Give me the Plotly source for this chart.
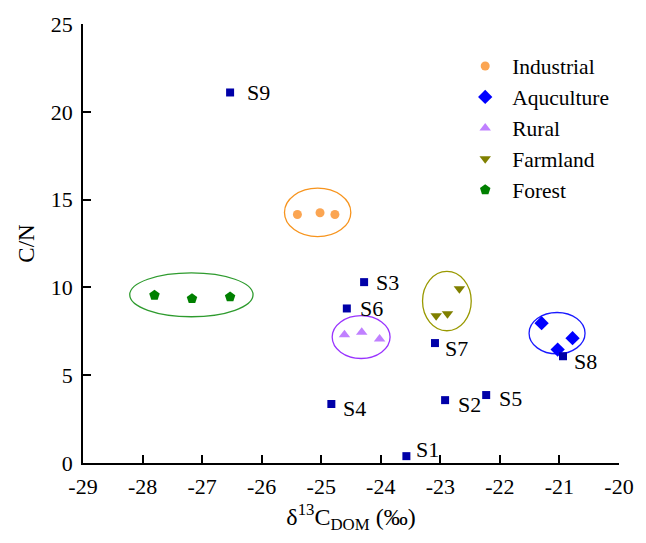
import plotly.graph_objects as go

# ---- data ----
industrial_x = [-25.40, -25.02, -24.77]
industrial_y = [14.15, 14.25, 14.15]
aqua_x = [-21.30, -20.78, -21.03]
aqua_y = [7.96, 7.11, 6.46]
rural_x = [-24.61, -24.32, -24.02]
rural_y = [7.30, 7.45, 7.06]
farm_x = [-23.07, -22.88, -22.68]
farm_y = [8.39, 8.50, 9.93]
forest_x = [-27.80, -27.17, -26.53]
forest_y = [9.55, 9.36, 9.46]

site_names = ["S1", "S2", "S3", "S4", "S5", "S6", "S7", "S8", "S9"]
site_x = [-23.57, -22.92, -24.28, -24.83, -22.23, -24.57, -23.09, -20.94, -26.53]
site_y = [0.39, 3.58, 10.30, 3.36, 3.87, 8.80, 6.83, 6.08, 21.10]

# ellipses: centre x, centre y, half-width, half-height
ell_cx = [-25.06, -21.04, -24.33, -22.89, -27.18]
ell_cy = [14.27, 7.39, 7.17, 9.22, 9.58]
ell_rx = [0.557, 0.47, 0.486, 0.409, 1.035]
ell_ry = [1.38, 1.18, 1.22, 1.69, 1.25]
ell_colors = ["#F7941D", "#1A1AFF", "#9933FF", "#999900", "#2E9B2E"]

x_tickvals = list(range(-29, -19))
x_ticktext = [str(v) for v in x_tickvals]
y_tickvals = [0, 5, 10, 15, 20, 25]

# label pixel offsets (style)
label_dx = [8, 11, 10, 10, 11, 11, 8, 9, 15]
label_dy = [7, -4, 0, -4, -3, 0, -5, -5, 0]

FONT = "Liberation Serif, Times New Roman, serif"

fig = go.Figure()

groups = [
    ("Industrial", industrial_x, industrial_y, "circle", "#FBA552", 9),
    ("Aquculture", aqua_x, aqua_y, "diamond", "#0000FF", 11),
    ("Rural", rural_x, rural_y, "triangle-up", "#C080FF", 10),
    ("Farmland", farm_x, farm_y, "triangle-down", "#808000", 10),
    ("Forest", forest_x, forest_y, "pentagon", "#008000", 11),
]
for name, xs, ys, sym, col, sz in groups:
    fig.add_trace(go.Scatter(
        x=xs, y=ys, mode="markers", name=name,
        marker=dict(symbol=sym, color=col, size=sz, line=dict(width=0)),
    ))

fig.add_trace(go.Scatter(
    x=site_x, y=site_y, mode="markers", showlegend=False,
    marker=dict(symbol="square", color="#0000A8", size=8, line=dict(width=0)),
    cliponaxis=False,
))

for name, sx, sy, dx, dy in zip(site_names, site_x, site_y, label_dx, label_dy):
    fig.add_annotation(x=sx, y=sy, text=name, showarrow=False,
                       xanchor="left", yanchor="middle", xshift=dx, yshift=dy,
                       font=dict(family=FONT, size=22, color="black"))

for cx, cy, rx, ry, col in zip(ell_cx, ell_cy, ell_rx, ell_ry, ell_colors):
    fig.add_shape(type="circle", xref="x", yref="y",
                  x0=cx - rx, x1=cx + rx, y0=cy - ry, y1=cy + ry,
                  line=dict(color=col, width=1.3), layer="below")

fig.update_layout(
    width=646, height=543,
    margin=dict(l=83, r=18, t=20, b=80),
    paper_bgcolor="white", plot_bgcolor="white",
    font=dict(family=FONT, size=22, color="black"),
    legend=dict(x=0.70, y=0.951, xanchor="left", yanchor="top",
                font=dict(family=FONT, size=21.5), bgcolor="rgba(0,0,0,0)",
                itemwidth=44, tracegroupgap=0),
    xaxis=dict(range=[-29, -20], tickvals=x_tickvals, ticktext=x_ticktext,
               ticks="inside", ticklen=8, tickwidth=1.5, tickcolor="black",
               showline=True, linecolor="black", linewidth=1.5,
               showgrid=False, zeroline=False, ticklabelstandoff=3,
               tickfont=dict(family=FONT, size=22),
               title=dict(text="δ<sup>13</sup>C<sub>DOM</sub> (‰)",
                          font=dict(family=FONT, size=24), standoff=10)),
    yaxis=dict(range=[0, 25], tickvals=y_tickvals,
               ticks="inside", ticklen=8, tickwidth=1.5, tickcolor="black",
               showline=True, linecolor="black", linewidth=1.5,
               showgrid=False, zeroline=False, ticklabelstandoff=4,
               tickfont=dict(family=FONT, size=22),
               title=dict(text="C/N", font=dict(family=FONT, size=23), standoff=10)),
)

fig.write_html("out.html")
